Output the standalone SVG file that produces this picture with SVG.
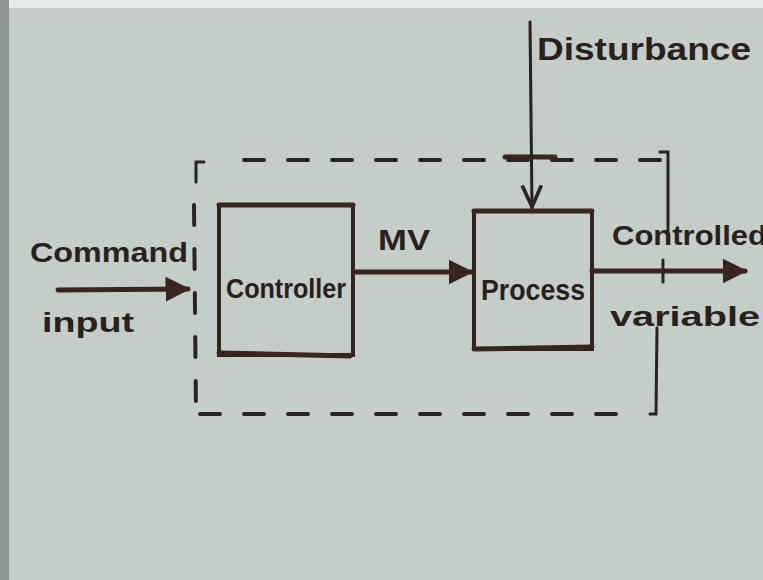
<svg xmlns="http://www.w3.org/2000/svg" width="763" height="580" viewBox="0 0 763 580">
<defs>
<style>
.bg{fill:#c4cdc7}
.box{fill:none;stroke:#33221f;stroke-width:4}
.line{fill:none;stroke:#3a2320;stroke-width:5;stroke-linecap:round}
.thin{fill:none;stroke:#2a2220;stroke-width:3;stroke-linecap:round}
.dash{fill:none;stroke:#2a2220;stroke-width:4;stroke-dasharray:20 24;stroke-linecap:round}
.txt{font-family:"Liberation Sans","DejaVu Sans",sans-serif;fill:#2a201d;font-weight:bold}
</style>
<marker id="ah" viewBox="0 0 10 10" refX="9" refY="5" markerWidth="5" markerHeight="5" orient="auto" markerUnits="strokeWidth">
<path d="M0,0 L10,5 L0,10 Z" fill="#3a2320"/>
</marker>
<marker id="ahd" viewBox="0 0 10 10" refX="9" refY="5" markerWidth="8" markerHeight="8" orient="auto" markerUnits="strokeWidth">
<path d="M0,1 L9,5 L0,9" fill="none" stroke="#2a2220" stroke-width="1.5"/>
</marker>
</defs>
<rect class="bg" x="0" y="0" width="763" height="580"/>
<rect x="0" y="0" width="763" height="8" fill="#e6ebe8"/>
<rect x="0" y="0" width="9" height="580" fill="#8f9590"/>
<g id="boundary">
<path class="dash" d="M244,160 L660,160"/>
<path class="thin" d="M196,182 L196,162 L204,162"/>
<path class="dash" d="M194,205 L196,415"/>
<path class="dash" d="M200,414 L640,414"/>
<path class="thin" d="M650,414 L656,414 L657,328"/>
<path class="thin" d="M660,152 L668,152 L668,235"/>
<path class="thin" d="M663,260 L663,282"/>
<path class="line" d="M505,157 L555,157"/>
</g>
<g id="controller">
<rect class="box" x="219" y="205" width="134" height="150"/>
<path class="line" d="M219,205 L353,205 M219,353 L350,356"/>
<text class="txt" x="286" y="298" font-size="28" text-anchor="middle" textLength="120" lengthAdjust="spacingAndGlyphs">Controller</text>
</g>
<g id="process">
<rect class="box" x="474" y="211" width="118" height="138"/>
<path class="line" d="M474,211 L592,211 M474,349 L592,347"/>
<text class="txt" x="533" y="300" font-size="30" text-anchor="middle" textLength="104" lengthAdjust="spacingAndGlyphs">Process</text>
</g>
<g id="labels">
<text class="txt" x="30" y="262" font-size="28" textLength="158" lengthAdjust="spacingAndGlyphs">Command</text>
<text class="txt" x="42" y="332" font-size="28" textLength="92" lengthAdjust="spacingAndGlyphs">input</text>
<text class="txt" x="378" y="250" font-size="30" textLength="52" lengthAdjust="spacingAndGlyphs">MV</text>
<text class="txt" x="537" y="60" font-size="32" textLength="214" lengthAdjust="spacingAndGlyphs">Disturbance</text>
<text class="txt" x="612" y="245" font-size="28" textLength="155" lengthAdjust="spacingAndGlyphs">Controlled</text>
<text class="txt" x="610" y="326" font-size="28" textLength="150" lengthAdjust="spacingAndGlyphs">variable</text>
</g>
<g id="connectors">
<path class="line" d="M58,290 L188,289" marker-end="url(#ah)"/>
<path class="line" d="M355,272 L471,272" marker-end="url(#ah)"/>
<path class="line" d="M592,271 L745,271" marker-end="url(#ah)"/>
<path class="thin" d="M530,22 L532,207" marker-end="url(#ahd)"/>
</g>
</svg>
